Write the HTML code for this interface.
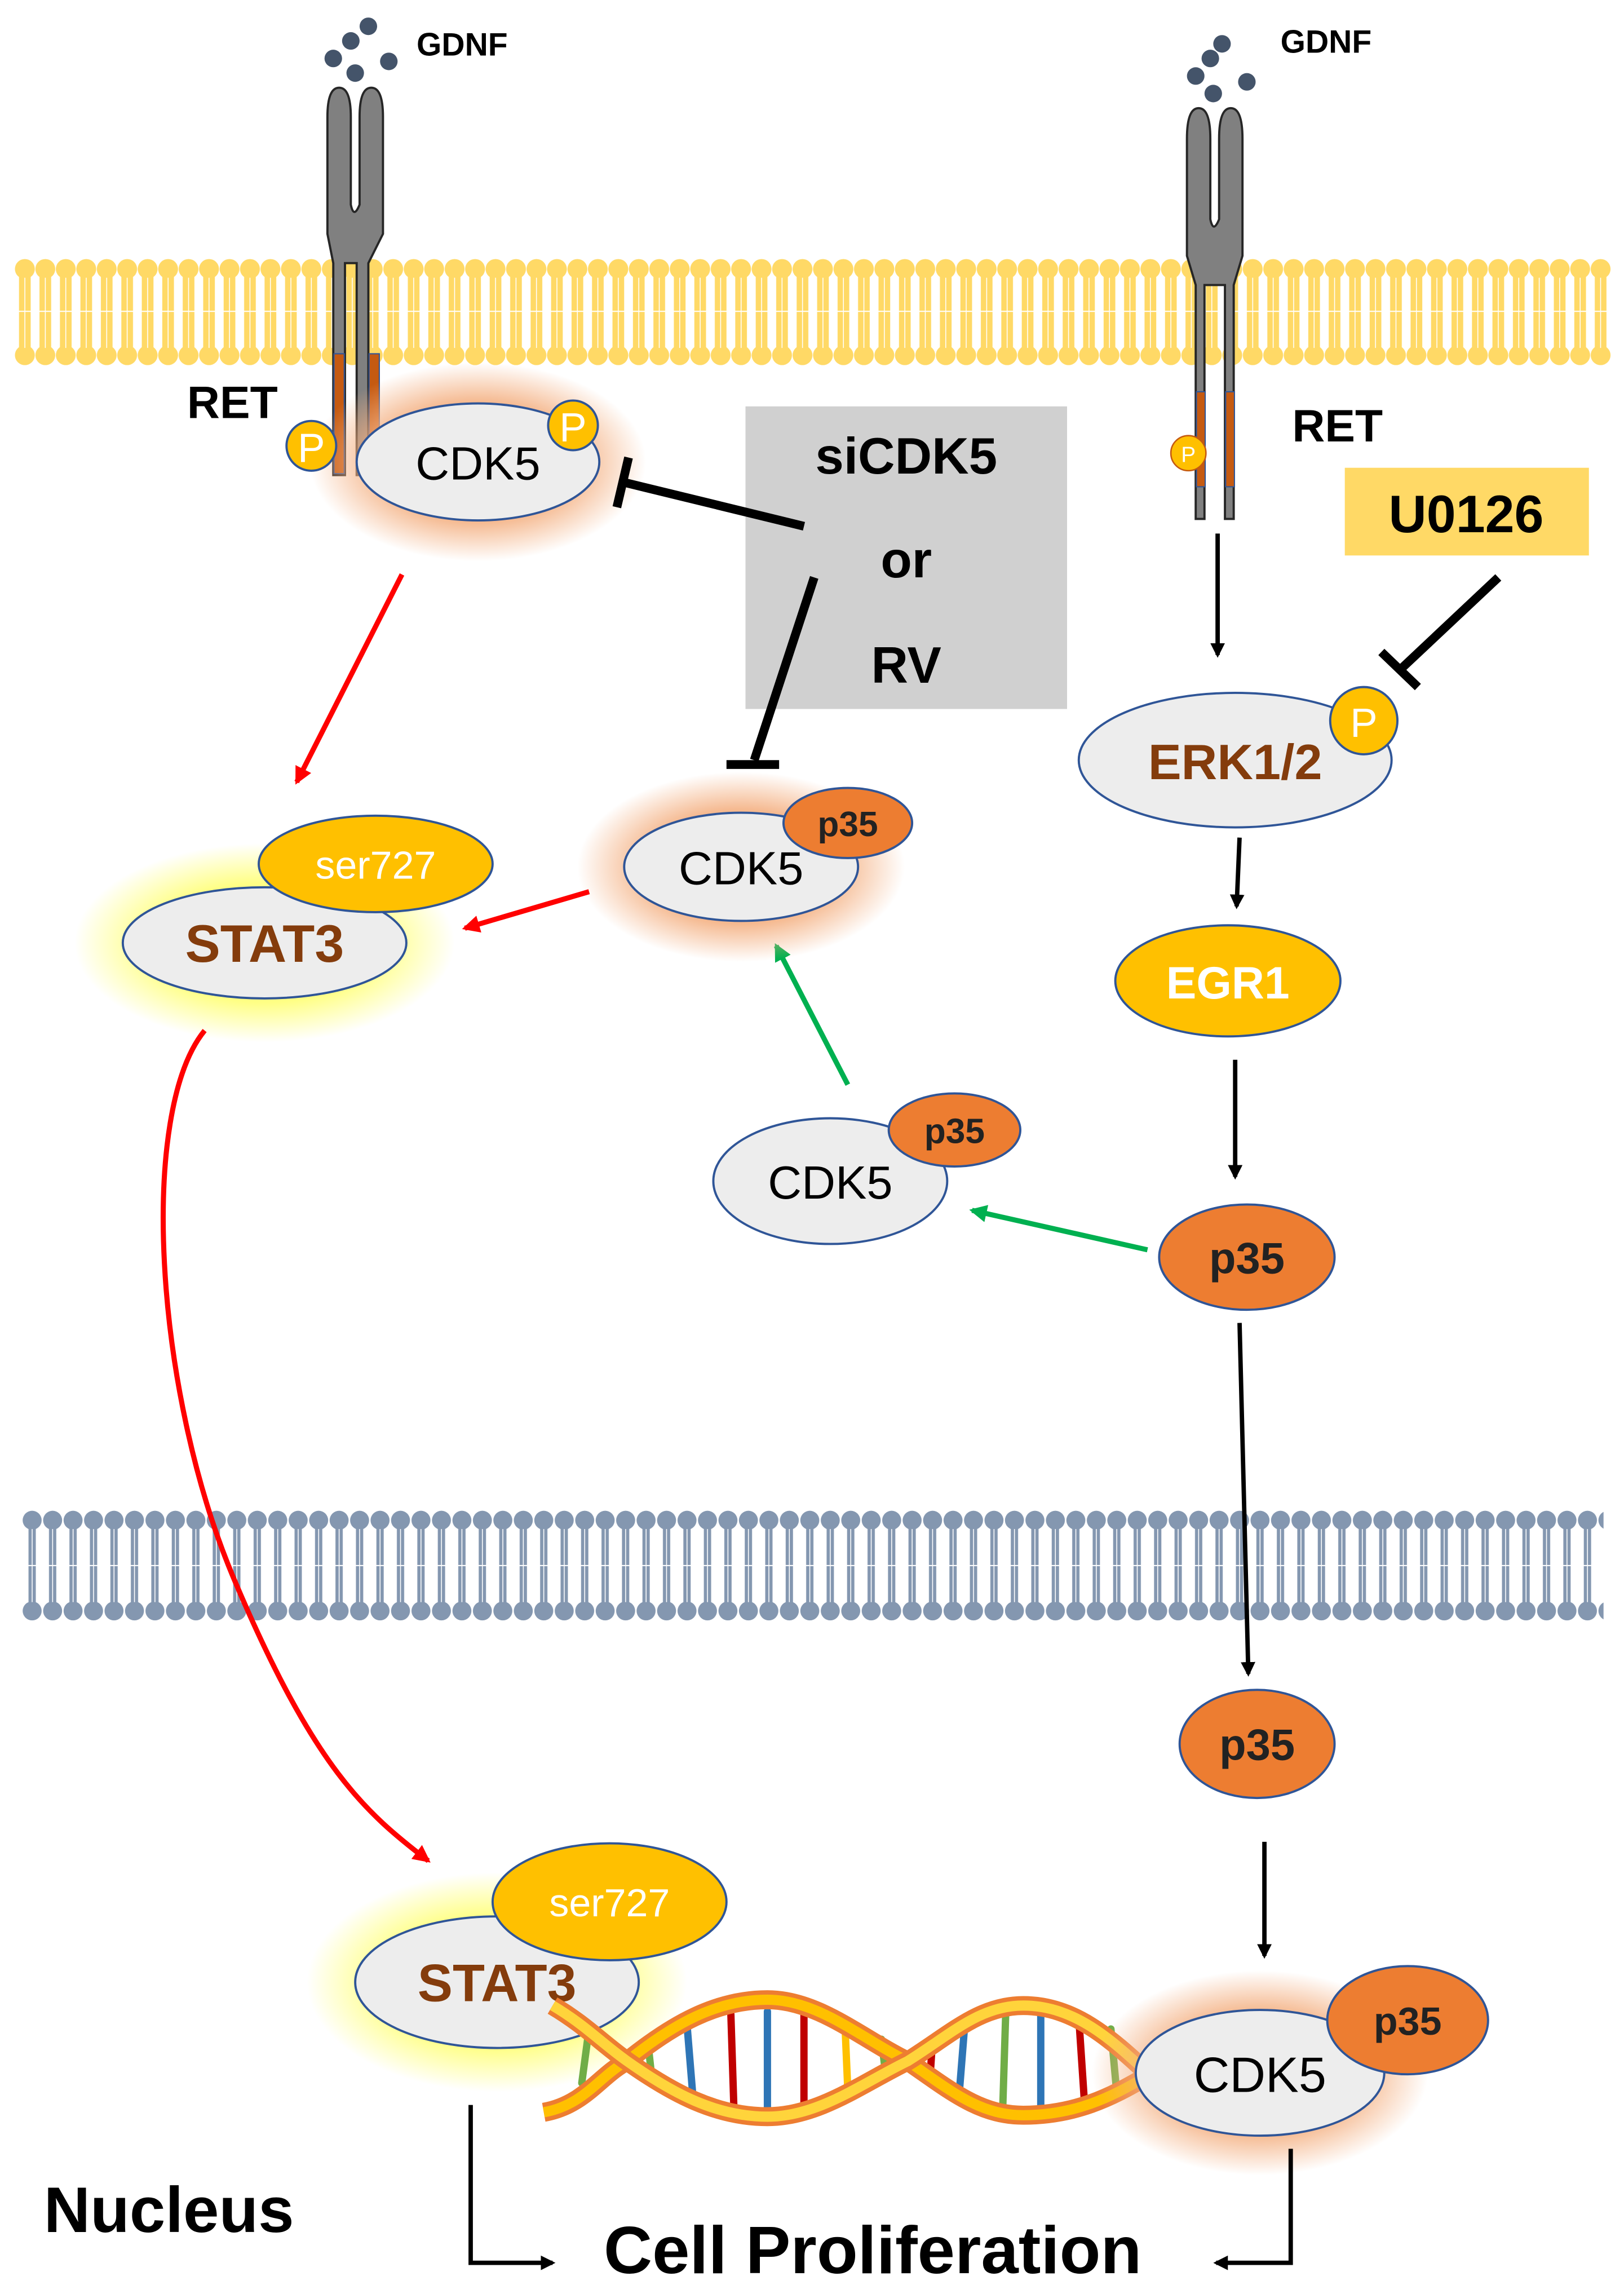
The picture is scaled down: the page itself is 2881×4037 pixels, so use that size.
<!DOCTYPE html>
<html><head><meta charset="utf-8"><style>
html,body{margin:0;padding:0;background:#fff}
svg{display:block}
text{font-family:"Liberation Sans",Arial,sans-serif}
</style></head><body>
<svg width="2881" height="4037" viewBox="0 0 1111 1557" preserveAspectRatio="none" xmlns="http://www.w3.org/2000/svg">
<defs>
<pattern id="lipY" x="10" y="0" width="14" height="1557" patternUnits="userSpaceOnUse">
<rect x="3" y="184" width="8" height="58" fill="#FFD966"/>
<circle cx="7" cy="184" r="6.8" fill="#FFD966"/>
<circle cx="7" cy="243" r="6.8" fill="#FFD966"/>
<line x1="7" y1="190" x2="7" y2="238" stroke="#fff" stroke-width="0.6"/>
<line x1="0" y1="213" x2="14" y2="213" stroke="#fff" stroke-width="0.8"/>
</pattern>
<pattern id="lipB" x="15" y="0" width="14" height="1557" patternUnits="userSpaceOnUse">
<rect x="4.5" y="1042" width="5" height="58" fill="#8497B0"/>
<circle cx="7" cy="1040" r="6.5" fill="#8497B0"/>
<circle cx="7" cy="1102" r="6.5" fill="#8497B0"/>
<line x1="7" y1="1046" x2="7" y2="1096" stroke="#fff" stroke-width="0.6"/>
<line x1="0" y1="1071" x2="14" y2="1071" stroke="#fff" stroke-width="0.8"/>
</pattern>
<radialGradient id="glowO"><stop offset="0.6" stop-color="#F4B183" stop-opacity="0.9"/><stop offset="1" stop-color="#F4B183" stop-opacity="0"/></radialGradient>
<radialGradient id="glowY"><stop offset="0.6" stop-color="#FFFF66" stop-opacity="0.8"/><stop offset="1" stop-color="#FFFF66" stop-opacity="0"/></radialGradient>
<marker id="aK" markerWidth="10" markerHeight="10" refX="8" refY="5" orient="auto" markerUnits="userSpaceOnUse"><path d="M0,0 L10,5 L0,10 z" fill="#000"/></marker>
<marker id="aR" markerWidth="12" markerHeight="12" refX="10" refY="6" orient="auto" markerUnits="userSpaceOnUse"><path d="M0,0 L12,6 L0,12 z" fill="#FF0000"/></marker>
<marker id="aG" markerWidth="12" markerHeight="12" refX="10" refY="6" orient="auto" markerUnits="userSpaceOnUse"><path d="M0,0 L12,6 L0,12 z" fill="#00B050"/></marker>
</defs>

<rect x="10" y="175" width="1092" height="76" fill="url(#lipY)"/>
<rect x="15" y="1032" width="1082" height="78" fill="url(#lipB)"/>

<!-- left receptor -->
<g fill="#44546A"><circle cx="228" cy="40" r="6"/><circle cx="240" cy="28" r="6"/><circle cx="252" cy="18" r="6"/><circle cx="266" cy="42" r="6"/><circle cx="243" cy="50" r="6"/></g>
<text x="285" y="38" font-size="22" font-weight="bold">GDNF</text>
<path d="M224,80 Q224,60 232,60 Q240,60 240,80 L240,140 Q242,150 246,140 L246,80 Q246,60 254,60 Q262,60 262,80 L262,160 L252,180 L252,325 L244,325 L244,180 L236,180 L236,325 L228,325 L228,180 L224,160 Z" fill="#808080" stroke="#262626" stroke-width="1.5"/>
<rect x="228.5" y="242" width="7" height="82" fill="#C55A11" stroke="#2F5597" stroke-width="0.8"/>
<rect x="252.5" y="242" width="7" height="60" fill="#C55A11" stroke="#2F5597" stroke-width="0.8"/>
<text x="128" y="286" font-size="31" font-weight="bold">RET</text>

<!-- right receptor -->
<g fill="#44546A"><circle cx="818" cy="52" r="6"/><circle cx="828" cy="40" r="6"/><circle cx="836" cy="30" r="6"/><circle cx="853" cy="56" r="6"/><circle cx="830" cy="64" r="6"/></g>
<text x="876" y="36" font-size="22" font-weight="bold">GDNF</text>
<path d="M812,95 Q812,74 820,74 Q828,74 828,95 L828,150 Q830,160 834,150 L834,95 Q834,74 842,74 Q850,74 850,95 L850,175 L844,195 L844,355 L838,355 L838,195 L824,195 L824,355 L818,355 L818,195 L812,175 Z" fill="#808080" stroke="#262626" stroke-width="1.5"/>
<rect x="818.5" y="268" width="6" height="65" fill="#C55A11" stroke="#2F5597" stroke-width="0.8"/>
<rect x="838.5" y="268" width="6" height="65" fill="#C55A11" stroke="#2F5597" stroke-width="0.8"/>
<circle cx="813" cy="310" r="12" fill="#FFC000" stroke="#C55A11" stroke-width="1"/>
<text x="813" y="316" font-size="15" fill="#fff" text-anchor="middle">P</text>
<text x="884" y="302" font-size="31" font-weight="bold">RET</text>

<!-- CDK5 top left -->
<ellipse cx="327" cy="316" rx="115" ry="68" fill="url(#glowO)"/>
<ellipse cx="327" cy="316" rx="83" ry="40" fill="#EDEDED" stroke="#2F5597" stroke-width="1.5"/>
<text x="327" y="328" font-size="32" text-anchor="middle">CDK5</text>
<circle cx="213" cy="305" r="17" fill="#FFC000" stroke="#2F5597" stroke-width="1.5"/>
<text x="213" y="316" font-size="28" fill="#fff" text-anchor="middle">P</text>
<circle cx="392" cy="291" r="17" fill="#FFC000" stroke="#2F5597" stroke-width="1.5"/>
<text x="392" y="302" font-size="28" fill="#fff" text-anchor="middle">P</text>

<rect x="510" y="278" width="220" height="207" fill="#D0D0D0"/>
<text x="620" y="324" font-size="35" font-weight="bold" text-anchor="middle">siCDK5</text>
<text x="620" y="395" font-size="35" font-weight="bold" text-anchor="middle">or</text>
<text x="620" y="467" font-size="35" font-weight="bold" text-anchor="middle">RV</text>
<line x1="550" y1="360" x2="427" y2="330" stroke="#000" stroke-width="6"/>
<line x1="422" y1="347" x2="430" y2="313" stroke="#000" stroke-width="6"/>
<line x1="557" y1="395" x2="516" y2="520" stroke="#000" stroke-width="6"/>
<line x1="497" y1="523" x2="533" y2="523" stroke="#000" stroke-width="6"/>

<rect x="920" y="320" width="167" height="60" fill="#FFD966"/>
<text x="1003" y="364" font-size="36" font-weight="bold" text-anchor="middle">U0126</text>
<line x1="1025" y1="395" x2="958" y2="458" stroke="#000" stroke-width="6"/>
<line x1="945" y1="446" x2="970" y2="470" stroke="#000" stroke-width="6"/>
<line x1="833" y1="365" x2="833" y2="448" stroke="#000" stroke-width="3" marker-end="url(#aK)"/>

<ellipse cx="845" cy="520" rx="107" ry="46" fill="#EDEDED" stroke="#2F5597" stroke-width="1.5"/>
<text x="845" y="533" font-size="34" font-weight="bold" fill="#843C0C" text-anchor="middle">ERK1/2</text>
<circle cx="933" cy="493" r="23" fill="#FFC000" stroke="#2F5597" stroke-width="1.5"/>
<text x="933" y="504" font-size="28" fill="#fff" text-anchor="middle">P</text>
<line x1="848" y1="573" x2="846" y2="620" stroke="#000" stroke-width="3" marker-end="url(#aK)"/>

<ellipse cx="840" cy="671" rx="77" ry="38" fill="#FFC000" stroke="#2F5597" stroke-width="1.5"/>
<text x="840" y="683" font-size="31" font-weight="bold" fill="#fff" text-anchor="middle">EGR1</text>
<line x1="845" y1="725" x2="845" y2="805" stroke="#000" stroke-width="3" marker-end="url(#aK)"/>

<ellipse cx="853" cy="860" rx="60" ry="36" fill="#ED7D31" stroke="#2F5597" stroke-width="1.5"/>
<text x="853" y="871" font-size="30" font-weight="bold" fill="#222" text-anchor="middle">p35</text>

<line x1="785" y1="855" x2="665" y2="828" stroke="#00B050" stroke-width="3.5" marker-end="url(#aG)"/>
<ellipse cx="568" cy="808" rx="80" ry="43" fill="#EDEDED" stroke="#2F5597" stroke-width="1.5"/>
<text x="568" y="820" font-size="32" text-anchor="middle">CDK5</text>
<ellipse cx="653" cy="773" rx="45" ry="25" fill="#ED7D31" stroke="#2F5597" stroke-width="1.5"/>
<text x="653" y="782" font-size="24" font-weight="bold" fill="#222" text-anchor="middle">p35</text>
<line x1="580" y1="742" x2="531" y2="647" stroke="#00B050" stroke-width="3.5" marker-end="url(#aG)"/>

<ellipse cx="507" cy="593" rx="112" ry="65" fill="url(#glowO)"/>
<ellipse cx="507" cy="593" rx="80" ry="37" fill="#EDEDED" stroke="#2F5597" stroke-width="1.5"/>
<text x="507" y="605" font-size="32" text-anchor="middle">CDK5</text>
<ellipse cx="580" cy="563" rx="44" ry="24" fill="#ED7D31" stroke="#2F5597" stroke-width="1.5"/>
<text x="580" y="572" font-size="24" font-weight="bold" fill="#222" text-anchor="middle">p35</text>

<line x1="403" y1="610" x2="318" y2="635" stroke="#FF0000" stroke-width="3.5" marker-end="url(#aR)"/>
<line x1="275" y1="393" x2="203" y2="535" stroke="#FF0000" stroke-width="3.5" marker-end="url(#aR)"/>
<ellipse cx="181" cy="645" rx="130" ry="68" fill="url(#glowY)"/>
<ellipse cx="181" cy="645" rx="97" ry="38" fill="#EDEDED" stroke="#2F5597" stroke-width="1.5"/>
<text x="181" y="658" font-size="36" font-weight="bold" fill="#843C0C" text-anchor="middle">STAT3</text>
<ellipse cx="257" cy="591" rx="80" ry="33" fill="#FFC000" stroke="#2F5597" stroke-width="1.5"/>
<text x="257" y="601" font-size="27" fill="#fff" text-anchor="middle">ser727</text>

<path d="M140,705 C95,760 105,950 160,1080 S250,1240 293,1273" fill="none" stroke="#FF0000" stroke-width="3.5" marker-end="url(#aR)"/>

<line x1="848" y1="905" x2="854" y2="1145" stroke="#000" stroke-width="3" marker-end="url(#aK)"/>
<ellipse cx="860" cy="1193" rx="53" ry="37" fill="#ED7D31" stroke="#2F5597" stroke-width="1.5"/>
<text x="860" y="1204" font-size="30" font-weight="bold" fill="#222" text-anchor="middle">p35</text>
<line x1="865" y1="1260" x2="865" y2="1338" stroke="#000" stroke-width="3" marker-end="url(#aK)"/>

<ellipse cx="340" cy="1356" rx="130" ry="75" fill="url(#glowY)"/>
<ellipse cx="340" cy="1356" rx="97" ry="45" fill="#EDEDED" stroke="#2F5597" stroke-width="1.5"/>
<text x="340" y="1369" font-size="36" font-weight="bold" fill="#843C0C" text-anchor="middle">STAT3</text>
<ellipse cx="417" cy="1301" rx="80" ry="40" fill="#FFC000" stroke="#2F5597" stroke-width="1.5"/>
<text x="417" y="1311" font-size="27" fill="#fff" text-anchor="middle">ser727</text>

<!-- DNA -->
<g stroke-width="5" stroke-linecap="round">
<line x1="402" y1="1395" x2="398" y2="1425" stroke="#70AD47"/>
<line x1="443" y1="1395" x2="446" y2="1422" stroke="#70AD47"/>
<line x1="470" y1="1385" x2="474" y2="1434" stroke="#2E75B6"/>
<line x1="500" y1="1378" x2="502" y2="1440" stroke="#C00000"/>
<line x1="525" y1="1376" x2="525" y2="1443" stroke="#2E75B6"/>
<line x1="550" y1="1378" x2="550" y2="1440" stroke="#C00000"/>
<line x1="578" y1="1384" x2="580" y2="1430" stroke="#FFC000"/>
<line x1="603" y1="1395" x2="606" y2="1420" stroke="#70AD47"/>
<line x1="638" y1="1395" x2="636" y2="1425" stroke="#C00000"/>
<line x1="660" y1="1385" x2="656" y2="1435" stroke="#2E75B6"/>
<line x1="688" y1="1378" x2="686" y2="1442" stroke="#70AD47"/>
<line x1="712" y1="1377" x2="712" y2="1443" stroke="#2E75B6"/>
<line x1="738" y1="1380" x2="742" y2="1440" stroke="#C00000"/>
<line x1="760" y1="1388" x2="764" y2="1432" stroke="#70AD47"/>
</g>
<g fill="none" stroke-linecap="butt">
<path d="M372,1445 C400,1440 410,1420 429,1410 C460,1385 490,1368 525,1368 C560,1368 590,1395 621,1410 C650,1430 670,1447 700,1447 C735,1447 760,1435 785,1420" stroke="#ED7D31" stroke-width="13"/>
<path d="M372,1445 C400,1440 410,1420 429,1410 C460,1385 490,1368 525,1368 C560,1368 590,1395 621,1410 C650,1430 670,1447 700,1447 C735,1447 760,1435 785,1420" stroke="#FFC000" stroke-width="7"/>
<path d="M378,1372 C400,1385 412,1398 429,1410 C460,1432 490,1448 525,1448 C560,1448 590,1425 621,1410 C650,1392 670,1372 700,1372 C735,1372 760,1395 785,1418" stroke="#ED7D31" stroke-width="13"/>
<path d="M378,1372 C400,1385 412,1398 429,1410 C460,1432 490,1448 525,1448 C560,1448 590,1425 621,1410 C650,1392 670,1372 700,1372 C735,1372 760,1395 785,1418" stroke="#FFD43B" stroke-width="7"/>
</g>

<ellipse cx="862" cy="1418" rx="115" ry="70" fill="url(#glowO)"/>
<ellipse cx="862" cy="1418" rx="85" ry="43" fill="#EDEDED" stroke="#2F5597" stroke-width="1.5"/>
<text x="862" y="1431" font-size="34" text-anchor="middle">CDK5</text>
<ellipse cx="963" cy="1382" rx="55" ry="37" fill="#ED7D31" stroke="#2F5597" stroke-width="1.5"/>
<text x="963" y="1392" font-size="27" font-weight="bold" fill="#222" text-anchor="middle">p35</text>

<polyline points="322,1440 322,1548 378,1548" fill="none" stroke="#000" stroke-width="3" marker-end="url(#aK)"/>
<polyline points="883,1470 883,1548 832,1548" fill="none" stroke="#000" stroke-width="3" marker-end="url(#aK)"/>
<text x="30" y="1527" font-size="44" font-weight="bold">Nucleus</text>
<text x="413" y="1555" font-size="46" font-weight="bold">Cell Proliferation</text>
</svg>
</body></html>
